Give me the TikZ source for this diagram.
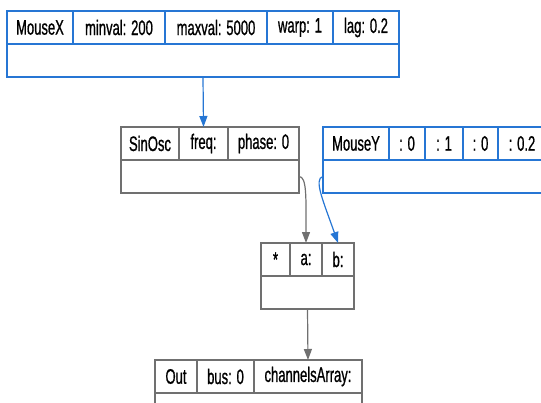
\documentclass[tikz,border=0pt]{standalone}
\usepackage{fontspec}
\setmainfont{Liberation Sans}[FakeStretch=0.62, FakeBold=0.8]
\usetikzlibrary{arrows.meta, positioning}
\definecolor{ugenblue}{RGB}{38,118,212}
\definecolor{ugengray}{RGB}{112,112,112}
\tikzset{
  cell/.style={
    rectangle, line width=1.2pt, outer sep=0pt,
    minimum height=33pt, inner sep=1pt,
    font=\fontsize{21}{22}\selectfont, text=black
  },
  bluecell/.style={cell, draw=ugenblue},
  graycell/.style={cell, draw=ugengray},
  body/.style={rectangle, line width=1.2pt, outer sep=0pt, minimum height=33pt,
               anchor=north west, inner sep=0pt},
  bluebody/.style={body, draw=ugenblue},
  graybody/.style={body, draw=ugengray},
  wire/.style={-{Triangle[width=8pt, length=11pt]}, line width=1.2pt},
  bluewire/.style={wire, ugenblue},
  graywire/.style={wire, ugengray}
}
\begin{document}
\begin{tikzpicture}[x=1pt, y=-1pt, node distance=0pt]
  \useasboundingbox (0,0) rectangle (541,402);
  \clip (0,0) rectangle (541,402);

  % MouseX
  \node[bluecell, anchor=north west, minimum width=66pt] (mx) at (7,11) {MouseX};
  \node[bluecell, minimum width=92pt,  right=of mx]    (mxmin)  {minval: 200};
  \node[bluecell, minimum width=102pt, right=of mxmin] (mxmax)  {maxval: 5000};
  \node[bluecell, minimum width=66pt,  right=of mxmax] (mxwarp) {warp: 1};
  \node[bluecell, minimum width=66pt,  right=of mxwarp] (mxlag) {lag: 0.2};
  \node[bluebody, minimum width=392pt] (mxbody) at (mx.south west) {};

  % SinOsc
  \node[graycell, anchor=north west, minimum width=58pt] (sin) at (121,127) {SinOsc};
  \node[graycell, minimum width=49pt, right=of sin]     (sinfreq)  {freq:};
  \node[graycell, minimum width=71pt, right=of sinfreq] (sinphase) {phase: 0};
  \node[graybody, minimum width=178pt] (sinbody) at (sin.south west) {};

  % MouseY
  \node[bluecell, anchor=north west, minimum width=66pt] (my) at (323,127) {MouseY};
  \node[bluecell, minimum width=36pt, right=of my]    (mymin)  {: 0};
  \node[bluecell, minimum width=38pt, right=of mymin] (mymax)  {: 1};
  \node[bluecell, minimum width=35pt, right=of mymax] (mywarp) {: 0};
  \node[bluecell, minimum width=48pt, right=of mywarp] (mylag) {: 0.2};
  \node[bluebody, minimum width=223pt] (mybody) at (my.south west) {};

  % multiply
  \node[graycell, anchor=north west, minimum width=29pt] (mul) at (261,243) {*};
  \node[graycell, minimum width=32pt, right=of mul]  (mula) {a:};
  \node[graycell, minimum width=32pt, right=of mula] (mulb) {b:};
  \node[graybody, minimum width=93pt] (mulbody) at (mul.south west) {};

  % Out
  \node[graycell, anchor=north west, minimum width=42pt] (out) at (155,360) {Out};
  \node[graycell, minimum width=57pt,  right=of out]    (outbus)  {bus: 0};
  \node[graycell, minimum width=108pt, right=of outbus] (outchan) {channelsArray:};
  \node[graybody, minimum width=207pt] (outbody) at (out.south west) {};

  \draw[bluewire] (mxbody.south) -- (sinfreq.north);
  \draw[graywire] (sinbody.east) .. controls +(8,0) and +(0,-45) .. (mula.north);
  \draw[bluewire] (mybody.west) .. controls +(-10,2) and +(-14,-40) .. (mulb.north);
  \draw[graywire] (mulbody.south) -- (outchan.north);
\end{tikzpicture}
\end{document}
